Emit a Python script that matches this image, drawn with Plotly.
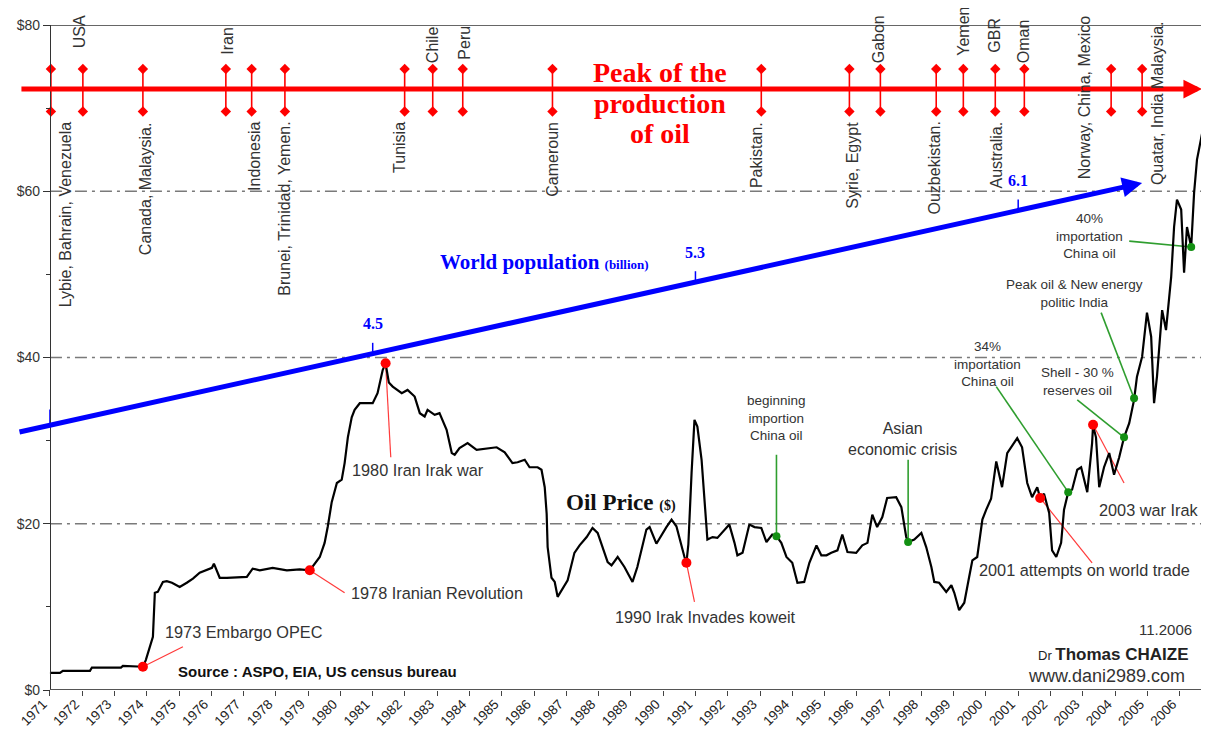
import numpy as np
import plotly.graph_objects as go

# ------------------------------------------------------------------ data
price_year = [1971.00, 1971.31, 1971.40, 1972.24, 1972.30, 1973.20, 1973.26, 1973.88, 1973.97, 1974.10,
              1974.19, 1974.25, 1974.34, 1974.50, 1974.62, 1974.78, 1975.02, 1975.24, 1975.43, 1975.64,
              1975.86, 1976.02, 1976.08, 1976.17, 1976.26, 1976.48, 1976.88, 1977.10, 1977.28, 1977.50,
              1977.90, 1978.34, 1978.74, 1979.05, 1979.36, 1979.51, 1979.61, 1979.73, 1979.89, 1980.04,
              1980.13, 1980.23, 1980.35, 1980.44, 1980.60, 1981.00, 1981.15, 1981.31, 1981.40, 1981.50,
              1981.62, 1981.90, 1982.08, 1982.30, 1982.46, 1982.61, 1982.70, 1982.92, 1983.07, 1983.29,
              1983.45, 1983.54, 1983.69, 1983.94, 1984.22, 1984.62, 1984.84, 1985.09, 1985.33, 1985.49,
              1985.71, 1985.86, 1986.11, 1986.23, 1986.33, 1986.39, 1986.42, 1986.54, 1986.64, 1986.73,
              1986.85, 1987.04, 1987.25, 1987.41, 1987.63, 1987.81, 1987.97, 1988.12, 1988.28, 1988.40,
              1988.59, 1988.80, 1989.05, 1989.20, 1989.48, 1989.58, 1989.79, 1990.10, 1990.26, 1990.41,
              1990.57, 1990.66, 1990.72, 1990.78, 1990.88, 1990.97, 1991.06, 1991.19, 1991.37, 1991.53,
              1991.68, 1992.05, 1992.21, 1992.30, 1992.46, 1992.67, 1992.83, 1993.04, 1993.20, 1993.38,
              1993.51, 1993.66, 1993.82, 1994.00, 1994.16, 1994.37, 1994.53, 1994.75, 1994.90, 1995.06,
              1995.21, 1995.40, 1995.55, 1995.71, 1995.98, 1996.17, 1996.33, 1996.48, 1996.63, 1996.79,
              1996.94, 1997.22, 1997.38, 1997.53, 1997.59, 1997.78, 1998.00, 1998.15, 1998.31, 1998.40,
              1998.55, 1998.77, 1998.93, 1999.02, 1999.17, 1999.33, 1999.48, 1999.58, 1999.73, 1999.89,
              2000.01, 2000.16, 2000.32, 2000.50, 2000.66, 2000.81, 2000.97, 2001.12, 2001.28, 2001.43,
              2001.59, 2001.68, 2001.80, 2001.96, 2002.05, 2002.18, 2002.33, 2002.42, 2002.55, 2002.67,
              2002.83, 2002.95, 2003.14, 2003.29, 2003.32, 2003.41, 2003.51, 2003.66, 2003.82, 2003.97,
              2004.13, 2004.28, 2004.44, 2004.59, 2004.68, 2004.84, 2004.99, 2005.12, 2005.21, 2005.30,
              2005.46, 2005.58, 2005.74, 2005.83, 2005.92, 2006.05, 2006.14, 2006.23, 2006.36, 2006.45,
              2006.54, 2006.66, 2006.74, 2006.85]
price_usd = [2.05, 2.05, 2.3, 2.3, 2.7, 2.7, 2.9, 2.8, 3.6, 5.2,
             6.4, 11.7, 11.8, 13.0, 13.1, 12.9, 12.4, 12.9, 13.4, 14.1,
             14.4, 14.7, 15.2, 14.4, 13.5, 13.5, 13.6, 13.6, 14.6, 14.4,
             14.7, 14.4, 14.5, 14.4, 16.0, 17.7, 19.7, 22.6, 24.9, 25.3,
             27.3, 30.4, 32.8, 33.7, 34.5, 34.5, 35.7, 38.5, 39.3, 37.0,
             36.5, 35.7, 36.1, 35.3, 33.3, 32.9, 33.7, 33.1, 33.3, 31.3,
             28.5, 28.3, 29.1, 29.7, 28.9, 29.1, 29.2, 28.6, 27.3, 27.4,
             27.7, 26.8, 26.8, 26.5, 24.4, 21.2, 17.2, 13.5, 13.0, 11.2,
             12.0, 13.2, 16.5, 17.4, 18.4, 19.5, 18.9, 17.2, 15.4, 15.0,
             16.0, 14.8, 13.0, 14.8, 19.3, 19.6, 17.6, 19.6, 20.5, 19.7,
             17.2, 16.0, 15.3, 17.5, 26.1, 32.5, 31.7, 27.7, 18.1, 18.4,
             18.3, 19.9, 17.7, 16.2, 16.5, 19.9, 19.6, 19.5, 17.8, 18.7,
             18.5, 17.7, 16.0, 15.3, 12.9, 13.0, 15.3, 17.4, 16.2, 16.2,
             16.5, 16.8, 18.7, 16.6, 16.5, 17.4, 17.7, 21.1, 19.6, 20.8,
             23.1, 23.2, 22.0, 18.4, 17.8, 18.1, 18.9, 17.2, 14.8, 13.0,
             12.9, 11.8, 12.6, 11.7, 9.6, 10.5, 13.6, 15.6, 16.0, 20.5,
             21.7, 23.0, 27.5, 24.4, 28.5, 29.4, 30.3, 29.2, 24.9, 23.2,
             24.4, 23.1, 23.6, 21.3, 16.8, 16.0, 17.7, 21.7, 23.8, 24.1,
             26.5, 26.8, 23.8, 29.7, 31.8, 30.4, 24.4, 26.8, 28.5, 25.9,
             28.0, 30.4, 32.1, 34.9, 37.7, 40.1, 45.4, 42.5, 34.5, 37.7,
             45.7, 43.3, 49.7, 55.7, 59.0, 57.8, 50.2, 55.7, 53.3, 59.8,
             63.8, 66.2, 67.8, 60.0]

tick_years = list(range(1971, 2007))
tick_labels = [str(y) for y in tick_years]

# peak of oil production, by country
peak_year = [1971.03, 1972.02, 1973.88, 1976.45, 1977.25, 1978.28, 1981.99, 1982.86, 1983.79, 1986.57,
             1993.04, 1995.77, 1996.73, 1998.46, 1999.30, 2000.29, 2001.19, 2003.88, 2004.84]
peak_above = ["", "USA", "", "Iran", "", "", "", "Chile", "Peru", "",
              "", "", "Gabon", "", "Yemen", "GBR", "Oman", "", ""]
peak_below = ["Lybie, Bahrain, Venezuela", "", "Canada, Malaysia.", "", "Indonesia",
              "Brunei, Trinidad, Yemen.", "Tunisia", "", "", "Cameroun",
              "Pakistan.", "Syrie, Egypt", "", "Ouzbekistan.", "", "Australia.", "", "", ""]
peak_cross = ["Norway, China, Mexico", "Quatar, India Malaysia."]

# world population (billion)
pop_year = [1971, 1981, 1991, 2001]
pop_label = ["", "4.5", "5.3", "6.1"]

# events on the price curve
red_year = [1973.88, 1979.05, 1981.40, 1990.72, 2001.68, 2003.32]
red_usd = [2.8, 14.4, 39.3, 15.3, 23.1, 31.9]
red_text = ["1973 Embargo OPEC", "1978 Iranian Revolution", "1980 Iran Irak war",
            "1990 Irak Invades koweit", "2001 attempts on world trade", "2003 war Irak"]

green_year = [1993.51, 1997.59, 2002.55, 2004.28, 2004.59, 2006.36]
green_usd = [18.5, 17.8, 23.8, 30.4, 35.1, 53.3]
green_text = ["beginning<br>importion<br>China oil", "Asian<br>economic crisis",
              "34%<br>importation<br>China oil", "Shell - 30 %<br>reserves oil",
              "Peak oil & New energy<br>politic India", "40%<br>importation<br>China oil"]

# ------------------------------------------------------------------ layout helpers
SANS = "Liberation Sans, Arial, sans-serif"
SERIF = "Liberation Serif, Times New Roman, serif"
TXT = "#333333"
XMIN, XMAX = 1970.01, 2006.85
Y_AXIS_POS = (1971 - XMIN) / (XMAX - XMIN)

# label placement (layout only)
red_lead_end = [(1975.12, 5.2), (1980.13, 11.7), (1981.56, 28.0), (1990.97, 10.6), (2003.29, 15.3), (2004.28, 24.9)]
red_text_pos = [(1974.50, 7.0), (1980.26, 11.7), (1980.29, 26.5), (1988.43, 8.8), (1999.73, 14.4), (2003.45, 21.7)]
green_lead_end = [(1993.51, 28.3), (1997.59, 27.7), (2000.32, 36.5), (2002.83, 34.9), (2003.57, 45.4), (2004.44, 54.0)]
green_text_pos = [(1993.51, 32.7), (1997.41, 30.2), (2000.04, 39.2), (2002.83, 37.1), (2002.73, 47.65), (2003.20, 54.6)]
green_text_size = [13.5, 16, 13.5, 13.5, 13.5, 13.5]
below_dx = [14, 0, 2, 0, 3, 0, -5, 0, 0, 0, -5, 3, 0, -2, 0, 1, 0, 0, 0]
above_dx = [0, -3, 0, 2, 0, 0, 0, 0, 2, 0, 0, 0, -1, 0, 0, -1, 0, 0, 0]
above_dy = [0, 10, 0, 3, 0, 0, 0, -5, -2, 0, 0, 0, -5, 0, 2, 5, -5, 0, 0]
cross_pos = [(2003.04, 71.2), (2005.30, 70.6)]

PEAK_Y, STEM_TOP, STEM_BOT = 72.3, 74.7, 69.6
POP_LINE_X, POP_LINE_Y = [1970.01, 2004.84], [31.0, 61.0]

fig = go.Figure()

# leader lines
def segs(starts_x, starts_y, ends):
    xs, ys = [], []
    for x0, y0, (x1, y1) in zip(starts_x, starts_y, ends):
        xs += [x0, x1, None]
        ys += [y0, y1, None]
    return xs, ys

rx, ry = segs(red_year, red_usd, red_lead_end)
fig.add_trace(go.Scatter(x=rx, y=ry, mode="lines", line=dict(color="#ff3b3b", width=1.2),
                         hoverinfo="skip", showlegend=False))
gx, gy = segs(green_year, green_usd, green_lead_end)
fig.add_trace(go.Scatter(x=gx, y=gy, mode="lines", line=dict(color="#2f9e2f", width=1.6),
                         hoverinfo="skip", showlegend=False))

# oil price
fig.add_trace(go.Scatter(x=price_year, y=price_usd, mode="lines", line=dict(color="black", width=2.2),
                         hoverinfo="skip", showlegend=False))

# event dots
fig.add_trace(go.Scatter(x=red_year, y=red_usd, mode="markers", marker=dict(color="#ff0000", size=10),
                         hoverinfo="skip", showlegend=False))
fig.add_trace(go.Scatter(x=green_year, y=green_usd, mode="markers", marker=dict(color="#139013", size=8),
                         hoverinfo="skip", showlegend=False))

# country stems on the peak line
sx, sy = [], []
for yr in peak_year:
    sx += [yr, yr, None]
    sy += [STEM_TOP, STEM_BOT, None]
fig.add_trace(go.Scatter(x=sx, y=sy, mode="lines+markers",
                         line=dict(color="#ff0000", width=1.6),
                         marker=dict(symbol="diamond", size=8, color="#ff0000"),
                         hoverinfo="skip", showlegend=False))

# population ticks on the blue arrow
pop_y = np.interp(pop_year, POP_LINE_X, POP_LINE_Y)
px_, py_ = [], []
for yr, yv in zip(pop_year, pop_y):
    px_ += [yr, yr, None]
    py_ += [yv, yv + (1.9 if yr == pop_year[0] else 1.3), None]
fig.add_trace(go.Scatter(x=px_, y=py_, mode="lines", line=dict(color="#0000ff", width=1.5),
                         hoverinfo="skip", showlegend=False))

shapes = []
for g in (20, 40, 60):
    shapes.append(dict(type="line", xref="x", yref="y", x0=1971, x1=XMAX, y0=g, y1=g, layer="below",
                       line=dict(color="#7a7a7a", width=1.6, dash="12px,5px,3px,5px")))
shapes.append(dict(type="line", xref="x", yref="y", x0=1971, x1=XMAX, y0=80, y1=80,
                   line=dict(color="#333", width=1.5)))
shapes.append(dict(type="line", xref="x", yref="y", x0=1971, x1=XMAX, y0=0, y1=0,
                   line=dict(color="#555", width=1.8)))

ann = []
# arrows
ann.append(dict(x=2006.70, y=PEAK_Y, ax=1970.07, ay=PEAK_Y, xref="x", yref="y", axref="x", ayref="y",
                text="", showarrow=True, arrowhead=2, arrowsize=0.75, arrowwidth=5, arrowcolor="#ff0000",
                standoff=0))
ann.append(dict(x=POP_LINE_X[1], y=POP_LINE_Y[1], ax=POP_LINE_X[0], ay=POP_LINE_Y[0],
                xref="x", yref="y", axref="x", ayref="y",
                text="", showarrow=True, arrowhead=2, arrowsize=0.8, arrowwidth=5, arrowcolor="#0000ff",
                standoff=0))

# country labels
for i, yr in enumerate(peak_year):
    if peak_above[i]:
        ann.append(dict(x=yr, y=75.8, text=peak_above[i], textangle=-90, showarrow=False,
                        xanchor="center", yanchor="bottom", xshift=above_dx[i], yshift=above_dy[i],
                        font=dict(family=SANS, size=16, color=TXT)))
    if peak_below[i]:
        ann.append(dict(x=yr, y=68.6, text=peak_below[i], textangle=-90, showarrow=False,
                        xanchor="center", yanchor="top", xshift=below_dx[i],
                        font=dict(family=SANS, size=16, color=TXT)))
for t, (cx, cy) in zip(peak_cross, cross_pos):
    ann.append(dict(x=cx, y=cy, text=t, textangle=-90, showarrow=False,
                    font=dict(family=SANS, size=16, color=TXT)))

# peak title
for line, yv in zip(["Peak of the", "production", "of oil"], [74.25, 70.5, 67.0]):
    ann.append(dict(x=1989.89, y=yv, text="<b>%s</b>" % line, showarrow=False,
                    font=dict(family=SERIF, size=28, color="#ff0000")))

# population
ann.append(dict(x=1983.01, y=51.5, xanchor="left", showarrow=False,
                text="<b>World population <span style='font-size:13px'>(billion)</span></b>",
                font=dict(family=SERIF, size=21, color="#0000ff")))
for yr, yv, lab in zip(pop_year, pop_y, pop_label):
    if lab:
        ann.append(dict(x=yr, y=yv, text="<b>%s</b>" % lab, showarrow=False, yshift=30,
                        font=dict(family=SERIF, size=16, color="#0000ff")))

# event texts
for t, (tx, ty) in zip(red_text, red_text_pos):
    ann.append(dict(x=tx, y=ty, text=t, showarrow=False, xanchor="left",
                    font=dict(family=SANS, size=16.3, color=TXT)))
for t, (tx, ty), fs in zip(green_text, green_text_pos, green_text_size):
    ann.append(dict(x=tx, y=ty, text=t, showarrow=False, align="center",
                    font=dict(family=SANS, size=fs, color=TXT)))

ann.append(dict(x=1986.94, y=22.5, xanchor="left", showarrow=False,
                text="<b>Oil Price <span style='font-size:14px'>($)</span></b>",
                font=dict(family=SERIF, size=23, color="#111")))
ann.append(dict(x=1974.90, y=2.2, xanchor="left", showarrow=False,
                text="<b>Source : ASPO, EIA, US census bureau</b>",
                font=dict(family=SANS, size=15, color="#111")))
ann.append(dict(x=2006.45, y=7.3, xanchor="right", showarrow=False, text="11.2006",
                font=dict(family=SANS, size=15, color=TXT)))
ann.append(dict(x=2006.36, y=4.3, xanchor="right", showarrow=False,
                text="<span style='font-size:13px'>Dr </span><b>Thomas CHAIZE</b>",
                font=dict(family=SANS, size=17, color="#222")))
ann.append(dict(x=2006.23, y=1.7, xanchor="right", showarrow=False, text="www.dani2989.com",
                font=dict(family=SANS, size=18, color=TXT)))

# the page body has an 8px default margin: size the figure so the plot lands where it should
fig.update_layout(
    width=1201, height=734,
    margin=dict(l=10, r=2, t=17, b=52),
    paper_bgcolor="white", plot_bgcolor="white",
    showlegend=False, hovermode=False,
    shapes=shapes, annotations=ann,
    xaxis=dict(range=[XMIN, XMAX], tickvals=tick_years, ticktext=tick_labels, tickangle=-45,
               ticks="outside", ticklen=5, tickcolor="#444", showgrid=False, zeroline=False,
               showline=False, ticklabelshift=-7, ticklabelstandoff=-5,
               tickfont=dict(family=SANS, size=13.5, color="#222")),
    yaxis=dict(range=[0, 80], anchor="free", position=Y_AXIS_POS, tickvals=[0, 20, 40, 60, 80],
               ticktext=["$0", "$20", "$40", "$60", "$80"], ticks="outside", ticklen=7,
               tickcolor="#333", showline=True, linecolor="#333", linewidth=1.2,
               showgrid=False, zeroline=False,
               minor=dict(tickvals=[10, 30, 50, 70], ticks="outside", ticklen=4, tickcolor="#333"),
               tickfont=dict(family=SANS, size=14, color="#333")),
)

fig.write_html("out.html")
